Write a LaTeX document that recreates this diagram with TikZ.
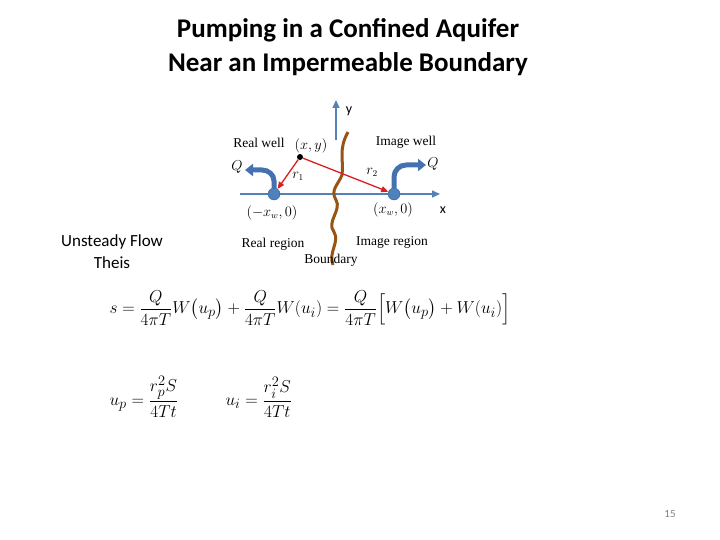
\documentclass[tikz,border=0pt]{standalone}
\usepackage{amsmath}
\usepackage{fontspec}
\setmainfont{Carlito}
\newfontfamily\serif{Liberation Serif}
\usetikzlibrary{arrows.meta}
\begin{document}
\begin{tikzpicture}[x=1pt,y=-1pt,
  lbl/.style={font=\serif\fontsize{13.5}{15}\selectfont, inner sep=1pt},
  axis/.style={draw={rgb,255:red,84;green,130;blue,180}, line width=1.5pt, -{Triangle[length=8pt,width=7pt]}},
  pipe/.style={draw={rgb,255:red,68;green,114;blue,176}, line width=5pt, -{Triangle[length=8pt,width=12pt]}},
  well/.style={circle, fill={rgb,255:red,79;green,129;blue,189}, draw={rgb,255:red,50;green,90;blue,140}, minimum size=12pt, inner sep=0pt},
  ray/.style={draw={rgb,255:red,220;green,30;blue,30}, line width=1.3pt, -{Triangle[length=7pt,width=6pt]}},
  eq/.style={anchor=west, font=\fontsize{19}{22}\selectfont}]
\useasboundingbox (0,0) rectangle (720,540);
\node (title) at (348,47) [align=center, font=\bfseries\fontsize{27}{34}\selectfont] {Pumping in a Confined Aquifer\\Near an Impermeable Boundary};
\coordinate (xs) at (240,194); \coordinate (xe) at (440,194);
\draw[axis] (xs) -- (xe);
\coordinate (ys) at (336,140); \coordinate (ye) at (336,100);
\draw[axis] (ys) -- (ye);
\node (ylab) at (349,111) [font=\fontsize{14}{16}\selectfont] {y};
\node (xlab) at (443,210) [font=\fontsize{14}{16}\selectfont] {x};
\draw[line width=3pt, draw={rgb,255:red,150;green,85;blue,20}] (348,132) .. controls (338,150) and (344,160) .. (342,175) .. controls (338,185) and (330,190) .. (336,200) .. controls (342,210) and (326,222) .. (334,232) .. controls (340,242) and (328,252) .. (333,265);
\node[well] (rw) at (274,194) {};
\node[well] (iw) at (394,194) {};
\coordinate (rwt) at (245,170);
\coordinate (iwt) at (426,165);
\draw[pipe] (rw.north) -- (274,181) to[out=90,in=0] (262,170) -- (rwt);
\draw[pipe] (iw.north) -- (394,177) to[out=90,in=180] (406,165) -- (iwt);
\node[circle, fill=black, minimum size=6pt, inner sep=0pt] (p) at (300,157) {};
\draw[ray] (p) -- (rw);
\draw[ray] (p) -- (iw);
\node[lbl] (rwl) at (259,143) {Real well};
\node[lbl] (iwl) at (406,142) {Image well};
\node[lbl] (pl) at (311,146) {$(x,y)$};
\node[lbl] (q1) at (237,167) {$Q$};
\node[lbl] (q2) at (433,164) {$Q$};
\node[lbl] (r1) at (298,176) {$r_1$};
\node[lbl] (r2) at (372,172) {$r_2$};
\node[lbl] (rwc) at (272,213) {$(-x_w,0)$};
\node[lbl] (iwc) at (393,210) {$(x_w,0)$};
\node[lbl] (rr) at (273,244) {Real region};
\node[lbl] (ir) at (392,242) {Image region};
\node[lbl] (bd) at (331,260) {Boundary};
\node (uf) at (112,252) [align=center, font=\fontsize{17}{22}\selectfont] {Unsteady Flow\\Theis};
\node (eq1) at (106,308) [eq] {$s=\dfrac{Q}{4\pi T}W\big(u_p\big)+\dfrac{Q}{4\pi T}W(u_i)=\dfrac{Q}{4\pi T}\Big[W\big(u_p\big)+W(u_i)\Big]$};
\node (eq2) at (106,397) [eq] {$u_p=\dfrac{r_p^2S}{4Tt}$};
\node (eq3) at (222,397) [eq] {$u_i=\dfrac{r_i^2S}{4Tt}$};
\node (pg) at (670,514) [font=\fontsize{11}{12}\selectfont, text=gray] {15};
\end{tikzpicture}
\end{document}
